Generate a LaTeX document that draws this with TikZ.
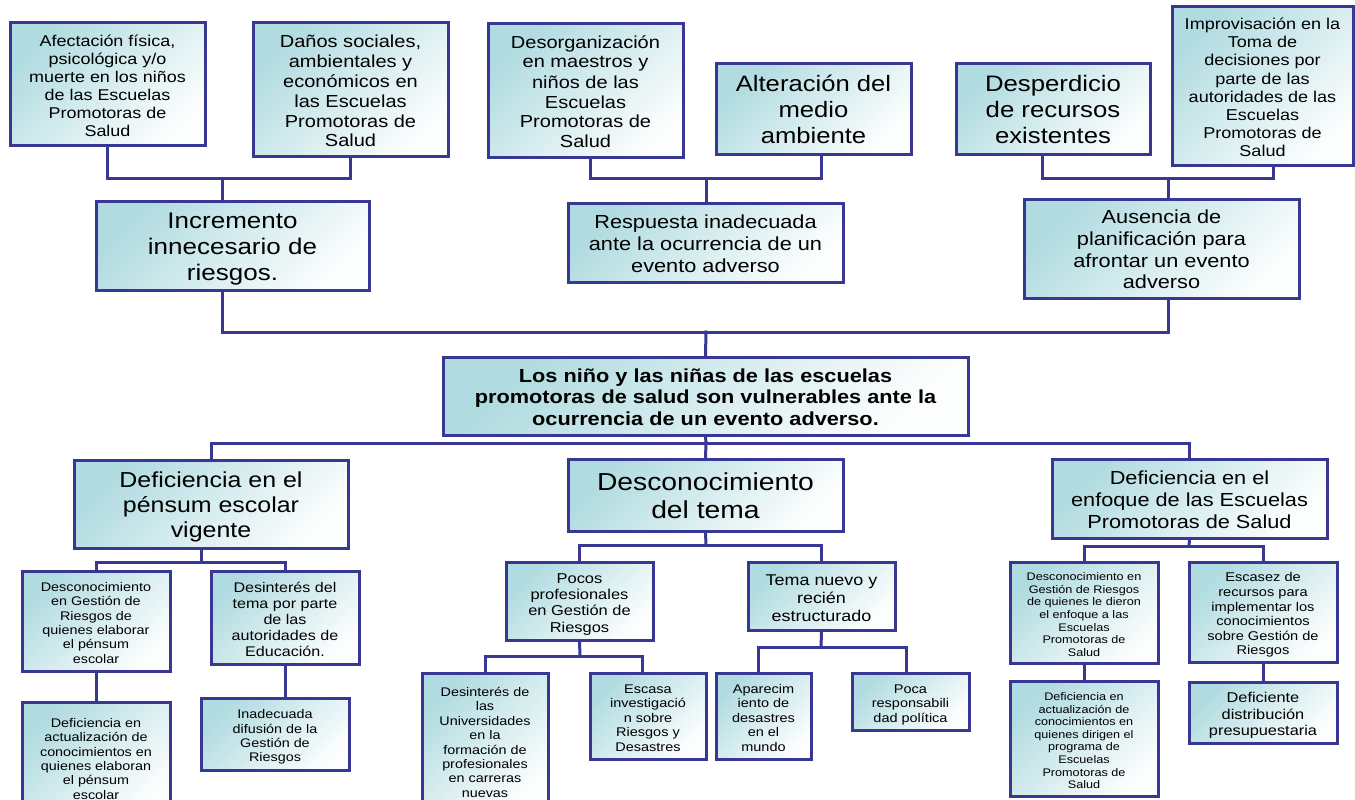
\documentclass[tikz,border=0pt]{standalone}
\usepackage{fontspec}
\setmainfont{Liberation Sans}[FakeStretch=1.15]
\definecolor{bcol}{RGB}{56,56,148}
\definecolor{tealc}{RGB}{176,219,224}
\tikzset{
  box/.style={draw=bcol, line width=3pt, top color=tealc, bottom color=white!96!tealc, shading angle=45,
    inner sep=0pt, align=center, text=black},
  conn/.style={draw=bcol, line width=3pt, line cap=rect}
}
\newcommand{\mybox}[7]{%
  \node[box, font={\fontsize#6\selectfont}, minimum width={#4-#2}, minimum height={#5-#3}]
    (#1) at ({(#2+#4)/2},{(#3+#5)/2}) {\raisebox{-3.5pt}[\height][\depth]{\begin{tabular}{@{}c@{}}#7\end{tabular}}};}
\begin{document}
\begin{tikzpicture}[x=1pt,y=-1pt]
\useasboundingbox (0,0) rectangle (1355,800);
\fill[white] (0,0) rectangle (1355,800);

% top row
\mybox{afect}{10}{23}{205}{145}{{15.6}{18}}{Afectación física,\\psicológica y/o\\muerte en los niños\\de las Escuelas\\Promotoras de\\Salud}
\mybox{danos}{253}{23}{448}{156}{{17.4}{20}}{Daños sociales,\\ambientales y\\económicos en\\las Escuelas\\Promotoras de\\Salud}
\mybox{incr}{96}{201}{369}{290}{{22.6}{26}}{Incremento\\innecesario de\\riesgos.}
\mybox{desorg}{488}{24}{683}{157}{{17.4}{20}}{Desorganización\\en maestros y\\niños de las\\Escuelas\\Promotoras de\\Salud}
\mybox{alter}{716}{64}{911}{154}{{22.3}{25.7}}{Alteración del\\medio\\ambiente}
\mybox{resp}{568}{203}{843}{282}{{18.9}{21.7}}{Respuesta inadecuada\\ante la ocurrencia de un\\evento adverso}
\mybox{desp}{956}{64}{1150}{154}{{22.4}{25.8}}{Desperdicio\\de recursos\\existentes}
\mybox{improv}{1172}{7}{1353}{165}{{15.7}{18.1}}{Improvisación en la\\Toma de\\decisiones por\\parte de las\\autoridades de las\\Escuelas\\Promotoras de\\Salud}
\mybox{ausen}{1024}{199}{1299}{298}{{18.9}{21.7}}{Ausencia de\\planificación para\\afrontar un evento\\adverso}

% central
\mybox{central}{443}{357}{968}{435}{{18.9}{21.7}\bfseries}{Los niño y las niñas de las escuelas\\promotoras de salud son vulnerables ante la\\ocurrencia de un evento adverso.}

% second level
\mybox{defpen}{74}{460}{348}{548}{{21.7}{25}}{Deficiencia en el\\pénsum escolar\\vigente}
\mybox{desctema}{568}{459}{843}{531}{{24.6}{28.3}}{Desconocimiento\\del tema}
\mybox{defenf}{1052}{459}{1327}{538}{{18.9}{21.7}}{Deficiencia en el\\enfoque de las Escuelas\\Promotoras de Salud}

% lower levels
\mybox{descges}{22}{571}{170}{671}{{12.5}{14.3}}{Desconocimiento\\en Gestión de\\Riesgos de\\quienes elaborar\\el pénsum\\escolar}
\mybox{desint}{211}{571}{359}{664}{{14}{16}}{Desinterés del\\tema por parte\\de las\\autoridades de\\Educación.}
\mybox{defact}{22}{702}{170}{812}{{12.5}{14.3}}{Deficiencia en\\actualización de\\conocimientos en\\quienes elaboran\\el pénsum\\escolar}
\mybox{inad}{201}{698}{349}{770}{{12.5}{14.4}}{Inadecuada\\difusión de la\\Gestión de\\Riesgos}
\mybox{pocos}{506}{562}{653}{640}{{14.3}{16.4}}{Pocos\\profesionales\\en Gestión de\\Riesgos}
\mybox{tema}{748}{562}{895}{630}{{15.6}{18}}{Tema nuevo y\\recién\\estructurado}
\mybox{desuniv}{422}{673}{548}{808}{{12.5}{14.4}}{Desinterés de\\las\\Universidades\\en la\\formación de\\profesionales\\en carreras\\nuevas}
\mybox{escasa}{590}{673}{706}{759}{{12.6}{14.5}}{Escasa\\investigació\\n sobre\\Riesgos y\\Desastres}
\mybox{aparec}{716}{673}{811}{759}{{12.6}{14.5}}{Aparecim\\iento de\\desastres\\en el\\mundo}
\mybox{poca}{852}{673}{969}{730}{{12.6}{14.5}}{Poca\\responsabili\\dad política}
\mybox{descenf}{1010}{562}{1158}{663}{{11}{12.7}}{Desconocimiento en\\Gestión de Riesgos\\de quienes le dieron\\el enfoque a las\\Escuelas\\Promotoras de\\Salud}
\mybox{escasez}{1189}{562}{1337}{662}{{12.7}{14.6}}{Escasez de\\recursos para\\implementar los\\conocimientos\\sobre Gestión de\\Riesgos}
\mybox{defact2}{1010}{681}{1158}{796}{{11}{12.6}}{Deficiencia en\\actualización de\\conocimientos en\\quienes dirigen el\\programa de\\Escuelas\\Promotoras de\\Salud}
\mybox{defdist}{1189}{682}{1337}{743}{{14.2}{16.3}}{Deficiente\\distribución\\presupuestaria}

% junctions
\coordinate (jA) at (222,178);
\coordinate (jB) at (706,178);
\coordinate (jC) at (1168,178);
\coordinate (jD) at (706,332);
\coordinate (jE) at (706,443);
\coordinate (jF) at (201,562);
\coordinate (jG) at (706,545);
\coordinate (jH) at (580,656);
\coordinate (jI) at (821,647);
\coordinate (jJ) at (1189,546);

% connectors
\draw[conn] (afect.south) |- (jA) -| (danos.south);
\draw[conn] (jA) -- (incr.north -| jA);
\draw[conn] ([xshift=4.5pt]desorg.south) |- (jB) -| ([xshift=7.5pt]alter.south);
\draw[conn] (jB) -- (resp.north -| jB);
\draw[conn] ([xshift=-11pt]desp.south) |- (jC) -| ([xshift=10.5pt]improv.south);
\draw[conn] (jC) -- (ausen.north -| jC);
\draw[conn] (incr.south -| jA) |- (jD) -| (ausen.south -| jC);
\draw[conn] (jD) -- (central.north);
\draw[conn] (central.south) -- (jE);
\draw[conn] (defpen.north) |- (jE) -| (defenf.north);
\draw[conn] (jE) -- (desctema.north);
\draw[conn] (defpen.south -| jF) -- (jF);
\draw[conn] (descges.north) |- (jF) -| (desint.north);
\draw[conn] (descges.south) -- (defact.north);
\draw[conn] (desint.south) -- (inad.north -| desint.south);
\draw[conn] (desctema.south) -- (jG);
\draw[conn] (pocos.north) |- (jG) -| (tema.north);
\draw[conn] (pocos.south) -- (jH);
\draw[conn] (desuniv.north) |- (jH) -| ([xshift=-6pt]escasa.north);
\draw[conn] (tema.south) -- (jI);
\draw[conn] ([xshift=-5.5pt]aparec.north) |- (jI) -| ([xshift=-4.5pt]poca.north);
\draw[conn] (defenf.south) -- (jJ);
\draw[conn] (descenf.north) |- (jJ) -| (escasez.north);
\draw[conn] (descenf.south) -- (defact2.north);
\draw[conn] (escasez.south) -- (defdist.north);
\end{tikzpicture}
\end{document}
